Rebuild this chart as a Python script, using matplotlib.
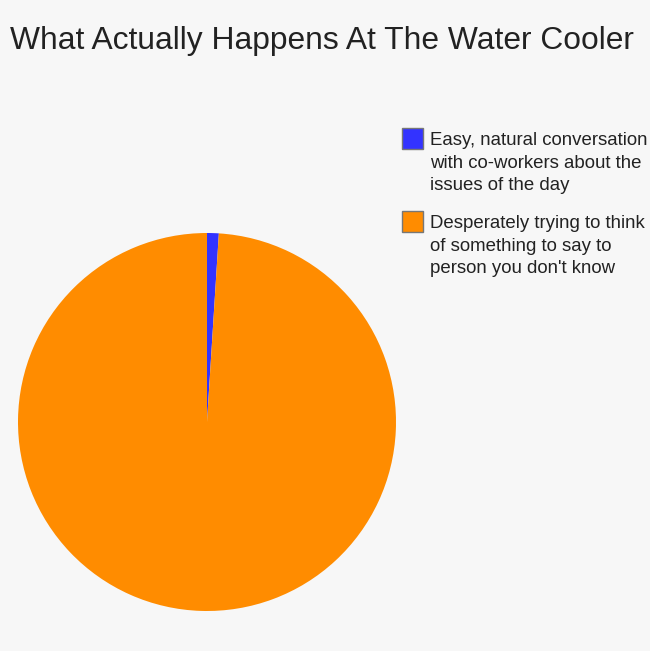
import matplotlib
matplotlib.use("Agg")
import matplotlib.pyplot as plt
from matplotlib.patches import Rectangle

title = "What Actually Happens At The Water Cooler"
labels = [
    "Easy, natural conversation\nwith co-workers about the\nissues of the day",
    "Desperately trying to think\nof something to say to\nperson you don't know",
]
values = [1, 99]
colors = ["#3333FF", "#FF8C00"]

W, H = 650, 651
fig = plt.figure(figsize=(W / 100, H / 100), dpi=100)
bg = "#F7F7F7"
fig.patch.set_facecolor(bg)
plt.rcParams['font.family'] = ['Liberation Sans', 'DejaVu Sans']

# pie axes: center (207, 422) radius 189 in px (top-left origin)
cx, cy, r = 207, 422, 189
ax = fig.add_axes([(cx - r) / W, (H - cy - r) / H, 2 * r / W, 2 * r / H])
ax.set_facecolor(bg)
ax.pie(values, colors=colors, startangle=90, counterclock=False, radius=1,
       wedgeprops=dict(linewidth=0, antialiased=True))
ax.set_xlim(-1, 1)
ax.set_ylim(-1, 1)
ax.set_aspect('equal')
ax.axis('off')

# title
fig.text(10 / W, (H - 49.5) / H, title, fontsize=22.9, color="#222222",
         ha='left', va='baseline')

# legend
box_tops = [128, 211]
first_baselines = [145, 228]
line_gap = 22.5
for lab, col, bt, fb in zip(labels, colors, box_tops, first_baselines):
    fig.patches.append(Rectangle((402 / W, (H - bt - 21) / H), 21 / W, 21 / H,
                                 transform=fig.transFigure, facecolor=col,
                                 edgecolor="#777777", linewidth=1))
    for i, line in enumerate(lab.split("\n")):
        fig.text(430 / W, (H - fb - i * line_gap) / H, line, fontsize=13.4,
                 color="#222222", ha='left', va='baseline')

fig.savefig("out.png", dpi=100, facecolor=bg)
